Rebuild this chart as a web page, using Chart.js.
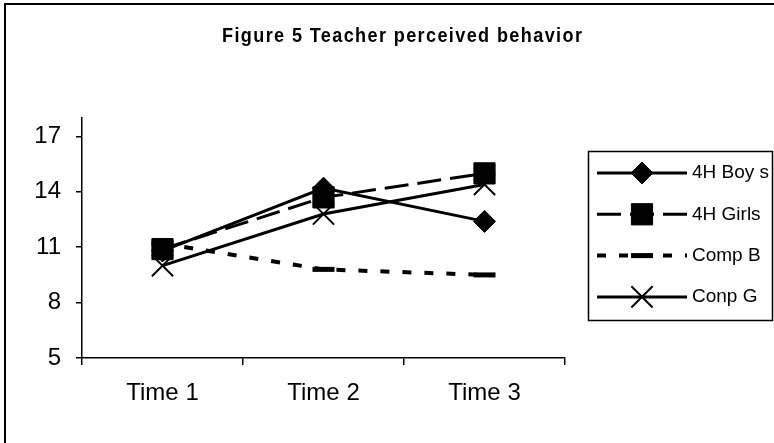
<!DOCTYPE html>
<html><head><meta charset="utf-8">
<script src="https://cdn.jsdelivr.net/npm/chart.js@4.4.0/dist/chart.umd.min.js"></script>
<style>html,body{margin:0;padding:0;background:#fff;} canvas{display:block}</style>
</head><body>
<canvas id="c" width="774" height="443"></canvas>
<script>
// ---- data ----
const chartTitle = 'Figure 5 Teacher perceived behavior';
const categories = ['Time 1', 'Time 2', 'Time 3'];
const seriesNames = ['4H Boy s', '4H Girls', 'Comp B', 'Conp G'];
const boys  = [10.8, 14.2, 12.4];
const girls = [10.9, 13.7, 15.0];
const compB = [11.2, 9.8, 9.5];
const conpG = [10.0, 12.8, 14.4];
const yTicks = [5, 8, 11, 14, 17];
const yMin = 5, yMax = 18;

const FONT = "'Liberation Sans', Arial, sans-serif";

const frame = {
  id: 'frame',
  beforeDraw(chart) {
    const ctx = chart.ctx;
    ctx.save();
    ctx.fillStyle = '#fff';
    ctx.fillRect(0, 0, chart.width, chart.height);
    ctx.strokeStyle = '#000';
    ctx.lineWidth = 2;
    ctx.strokeRect(5, 4, chart.width + 50, chart.height + 50);
    ctx.restore();
  }
};

const titlePlugin = {
  id: 'figTitle',
  afterDraw(chart) {
    const ctx = chart.ctx;
    ctx.save();
    ctx.fillStyle = '#000';
    ctx.font = 'bold 21px ' + FONT;
    ctx.textBaseline = 'alphabetic';
    ctx.textAlign = 'left';
    const sx = 0.86;
    const target = 360;
    const w = ctx.measureText(chartTitle).width;
    const ls = Math.max(0, (target / sx - w) / (chartTitle.length - 1));
    if ('letterSpacing' in ctx) ctx.letterSpacing = ls.toFixed(2) + 'px';
    ctx.scale(sx, 1);
    ctx.fillText(chartTitle, 222 / sx, 42);
    ctx.restore();
  }
};

function drawMarker(ctx, ds, x, y) {
  const opts = {
    pointStyle: ds.pointStyle, rotation: 0,
    radius: ds.pointRadius, borderWidth: ds.pointBorderWidth
  };
  ctx.save();
  ctx.setLineDash([]);
  ctx.fillStyle = '#000';
  ctx.strokeStyle = '#000';
  ctx.lineWidth = ds.pointBorderWidth;
  Chart.helpers.drawPoint(ctx, opts, x, y);
  ctx.restore();
}

const legendPlugin = {
  id: 'boxLegend',
  afterDraw(chart) {
    const ctx = chart.ctx;
    ctx.save();
    ctx.strokeStyle = '#000';
    ctx.lineWidth = 1.5;
    ctx.strokeRect(588.5, 151.5, 184, 169);
    chart.data.datasets.forEach((ds, i) => {
      const y = 173 + i * 41.3;
      ctx.save();
      ctx.strokeStyle = '#000';
      ctx.lineWidth = ds.borderWidth;
      ctx.setLineDash(ds.borderDash || []);
      ctx.beginPath();
      ctx.moveTo(597, y);
      ctx.lineTo(687, y);
      ctx.stroke();
      ctx.restore();
      if (ds.pointRadius > 0) drawMarker(ctx, ds, 642, y);
      ctx.fillStyle = '#000';
      ctx.font = '19px ' + FONT;
      ctx.textBaseline = 'middle';
      ctx.textAlign = 'left';
      ctx.fillText(ds.label, 692, y);
    });
    ctx.restore();
  }
};

const common = { borderColor: '#000', backgroundColor: '#000', pointBackgroundColor: '#000',
  pointBorderColor: '#000', borderWidth: 3, tension: 0, fill: false };

new Chart(document.getElementById('c'), {
  type: 'line',
  data: {
    labels: categories,
    datasets: [
      Object.assign({}, common, { label: seriesNames[0], data: boys,
        pointStyle: 'rectRot', pointRadius: 11, pointBorderWidth: 1 }),
      Object.assign({}, common, { label: seriesNames[1], data: girls, borderDash: [24, 9],
        pointStyle: 'rect', pointRadius: 15, pointBorderWidth: 1 }),
      Object.assign({}, common, { label: seriesNames[2], data: compB, borderDash: [9, 13], borderWidth: 4,
        pointStyle: 'line', pointRadius: 11, pointBorderWidth: 5 }),
      Object.assign({}, common, { label: seriesNames[3], data: conpG,
        pointStyle: 'crossRot', pointRadius: 15, pointBorderWidth: 2 })
    ]
  },
  options: {
    responsive: false,
    animation: false,
    events: [],
    layout: { padding: { top: 118, right: 209, bottom: 35, left: 0 } },
    plugins: { legend: { display: false }, tooltip: { enabled: false }, title: { display: false } },
    scales: {
      x: {
        type: 'category', offset: true,
        grid: { offset: true, drawOnChartArea: false, drawTicks: true, tickLength: 7, color: '#000', lineWidth: 1.5 },
        border: { display: true, color: '#000', width: 1.5 },
        ticks: { color: '#000', font: { family: FONT, size: 24 }, padding: 14, maxRotation: 0, autoSkip: false },
        afterFit(s) { s.height = 50; }
      },
      y: {
        min: yMin, max: yMax,
        afterBuildTicks(s) { s.ticks = yTicks.map(v => ({ value: v })); },
        grid: { drawOnChartArea: false, drawTicks: true, tickLength: 6, color: '#000', lineWidth: 1.5 },
        border: { display: true, color: '#000', width: 1.5 },
        ticks: { color: '#000', font: { family: FONT, size: 24 }, padding: 15 },
        afterFit(s) { s.width = 82; }
      }
    }
  },
  plugins: [frame, titlePlugin, legendPlugin]
});
</script>
</body></html>
